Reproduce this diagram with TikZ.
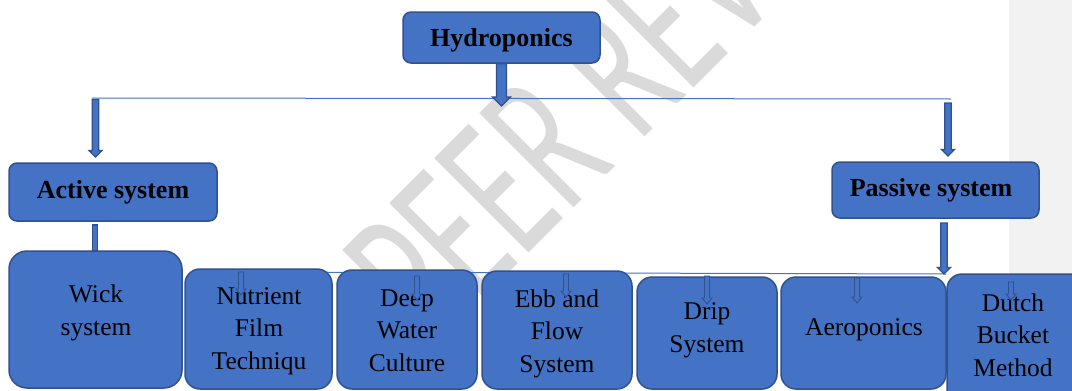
\documentclass[tikz,border=0pt]{standalone}
\usepackage{fontspec}
\setmainfont{Liberation Serif}
\newfontfamily\wmfont{Carlito}
\usetikzlibrary{calc}
\definecolor{boxfill}{HTML}{4472C4}
\definecolor{boxline}{HTML}{2F528F}
\definecolor{wmgray}{HTML}{DADADA}
\definecolor{bandgray}{HTML}{F2F2F2}
\tikzset{
  box/.style={draw=boxline, fill=boxfill, line width=1.5pt, inner sep=0pt},
  topbox/.style={box, rounded corners=8pt},
  botbox/.style={box, rounded corners=15pt},
  boldlbl/.style={font=\fontsize{26}{30}\selectfont\bfseries, anchor=base, inner sep=0pt},
  lbl/.style={font=\fontsize{25.5}{32.5}\selectfont, anchor=base, align=center, inner sep=0pt},
  hline/.style={draw=boxfill, line width=1pt},
  barrow/.style n args={3}{to path={let \p1=(\tikztostart), \p2=(\tikztotarget) in
     (\x1-#1/2,\y1) -- (\x1+#1/2,\y1) -- (\x1+#1/2,\y2+#3) -- (\x1+#2/2,\y2+#3) -- (\x1,\y2)
     -- (\x1-#2/2,\y2+#3) -- (\x1-#1/2,\y2+#3) -- cycle}},
  bigarrow/.style={draw=boxline, fill=boxfill, line width=1.3pt, barrow={10pt}{18pt}{9pt}},
  midarrow/.style={draw=boxline, fill=boxfill, line width=1.3pt, barrow={6.5pt}{13pt}{6.5pt}},
  stem/.style={draw=boxline, fill=boxfill, line width=1.3pt, barrow={5.4pt}{5.4pt}{0pt}},
  smallarrow/.style={draw=boxline, fill=boxfill, line width=0.9pt, barrow={5pt}{10pt}{6pt}},
}
\begin{document}
\begin{tikzpicture}[x=1pt,y=-1pt]
\useasboundingbox (0,0) rectangle (1072,391);
\clip (0,0) rectangle (1072,391);
\fill[bandgray] (1009,0) rectangle (1072,391);
% watermark
\node[font=\wmfont\fontsize{130}{130}\selectfont, text=wmgray, rotate=45, inner sep=0pt,
      anchor=base west] (wm) at (430,352) {\scalebox{1}[1.6]{PEER REVIEW}};
% connector bars
\coordinate (tl) at (92,98);
\coordinate (tr) at (951,99);
\draw[hline] (tl) -- (tr);
\coordinate (bl) at (241,272);
\coordinate (br) at (946,274);
\draw[hline] (bl) -- (br);
% boxes
\node[topbox, minimum width=197pt, minimum height=51pt] (hyd) at (501.5,37.5) {};
\node[topbox, minimum width=208pt, minimum height=58pt] (act) at (113,192) {};
\node[topbox, minimum width=207pt, minimum height=56pt] (pas) at (935.5,190) {};
\node[botbox, rounded corners=18pt, minimum width=173pt, minimum height=137pt] (wick) at (95.5,319.5) {};
\node[botbox, minimum width=147pt, minimum height=120pt] (nft) at (258.5,329) {};
\node[botbox, minimum width=140pt, minimum height=119pt] (dwc) at (407,329.5) {};
\node[botbox, minimum width=150pt, minimum height=118pt] (ebb) at (557,330) {};
\node[botbox, minimum width=140pt, minimum height=112pt] (drip) at (707,333) {};
\node[botbox, minimum width=165pt, minimum height=112pt] (aero) at (863.5,333) {};
\node[botbox, minimum width=140pt, minimum height=130pt] (dutch) at (1017,339) {};
% labels (anchor = baseline of the last line)
\node[boldlbl] (hydt) at (501.5,46) {Hydroponics};
\node[boldlbl] (actt) at (113,198) {Active system};
\node[boldlbl] (past) at (931,196) {Passive system};
\node[lbl,font=\fontsize{25.5}{33}\selectfont] (wickt) at (96,335) {Wick\\system};
\node[lbl] (nftt) at (259,369) {Nutrient\\Film\\Techniqu};
\node[lbl] (dwct) at (407,371) {Deep\\Water\\Culture};
\node[lbl] (ebbt) at (557,372) {Ebb and\\Flow\\System};
\node[lbl] (dript) at (707,352) {Drip\\System};
\node[lbl] (aerot) at (864,335) {Aeroponics};
\node[lbl,font=\fontsize{25.5}{32.5}\selectfont] (dutcht) at (1013,376) {Dutch\\Bucket\\Method};
% arrows
\coordinate (h0) at (503,106);
\draw[bigarrow] (hyd.south) to (h0);
\coordinate (la) at (95.5,99.5);
\coordinate (lb) at (95.5,157);
\draw[midarrow] (la) to (lb);
\coordinate (ra) at (948,103);
\coordinate (rb) at (948,156);
\draw[midarrow] (ra) to (rb);
\coordinate (sa) at (95,225);
\coordinate (sb) at (95,251);
\draw[stem] (sa) to (sb);
\coordinate (pa) at (944,223);
\coordinate (pb) at (944,274);
\draw[midarrow] (pa) to (pb);
\coordinate (n1) at (241,272);  \coordinate (m1) at (241,295);
\coordinate (n2) at (417,276);  \coordinate (m2) at (417,300);
\coordinate (n3) at (566,274);  \coordinate (m3) at (566,297);
\coordinate (n4) at (707,276);  \coordinate (m4) at (707,304);
\coordinate (n5) at (857,278);  \coordinate (m5) at (857,303);
\coordinate (n6) at (1011,282); \coordinate (m6) at (1011,300);
\draw[smallarrow] (n1) to (m1);
\draw[smallarrow] (n2) to (m2);
\draw[smallarrow] (n3) to (m3);
\draw[smallarrow] (n4) to (m4);
\draw[smallarrow] (n5) to (m5);
\draw[smallarrow] (n6) to (m6);
\end{tikzpicture}
\end{document}
